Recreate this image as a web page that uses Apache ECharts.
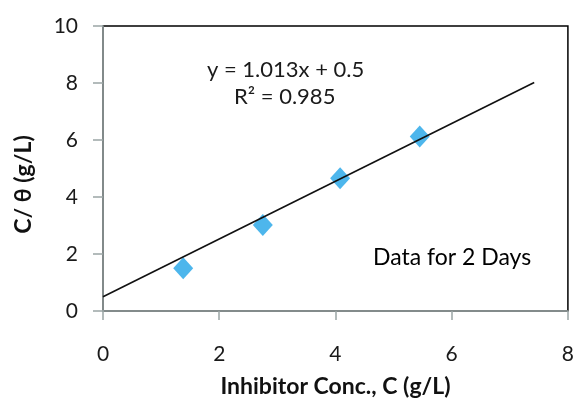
<!DOCTYPE html>
<html><head><meta charset="utf-8">
<script src="https://cdn.jsdelivr.net/npm/echarts@6/dist/echarts.min.js"></script>
<style>html,body{margin:0;padding:0;background:#fff}#c{width:577px;height:403px}</style>
</head><body><div id="c"></div>
<script>
var concX = [1.38, 2.75, 4.08, 5.45];
var cThetaY = [1.50, 3.02, 4.66, 6.12];
var trendX = [0, 7.42];
var trendY = [0.5, 8.02];
var xTicks = [0, 2, 4, 6, 8];
var yTicks = [0, 2, 4, 6, 8, 10];
var eqText = 'y = 1.013x + 0.5';
var r2Text = 'R² = 0.985';
var noteText = 'Data for 2 Days';

var font = 'Lato, "Open Sans", sans-serif';
var chart = echarts.init(document.getElementById('c'), null, {renderer: 'canvas'});
chart.setOption({
  animation: false,
  backgroundColor: '#fff',
  grid: {left: 103, right: 8, top: 26, bottom: 92, show: true, borderColor: '#000', borderWidth: 1.5},
  xAxis: {
    type: 'value', min: 0, max: 8, interval: 2,
    name: 'Inhibitor Conc., C (g/L)', nameLocation: 'middle', nameGap: 64,
    nameTextStyle: {fontFamily: font, fontSize: 23, color: '#111', fontWeight: 'bold'},
    axisLine: {show: true, lineStyle: {color: '#9aa5a5', width: 1.5}},
    axisTick: {show: true, length: 9, lineStyle: {color: '#9aa5a5', width: 1.5}},
    axisLabel: {margin: 33, fontFamily: font, fontSize: 21, color: '#1a1a1a',
      formatter: function(v){ return xTicks.indexOf(v) >= 0 ? String(v) : ''; }},
    splitLine: {show: false}
  },
  yAxis: {
    type: 'value', min: 0, max: 10, interval: 2,
    name: 'C/ θ (g/L)', nameLocation: 'middle', nameGap: 68, nameRotate: 90,
    nameTextStyle: {fontFamily: font, fontSize: 23, color: '#111', fontWeight: 'bold', padding: [0, 32, 0, 0]},
    axisLine: {show: true, lineStyle: {color: '#9aa5a5', width: 1.5}},
    axisTick: {show: true, length: 10, lineStyle: {color: '#9aa5a5', width: 1.5}},
    axisLabel: {margin: 25, fontFamily: font, fontSize: 21, color: '#1a1a1a',
      formatter: function(v){ return yTicks.indexOf(v) >= 0 ? String(v) : ''; }},
    splitLine: {show: false}
  },
  series: [
    {type: 'line', data: trendX.map(function(x,i){return [x, trendY[i]];}),
     showSymbol: false, symbol: 'none', lineStyle: {color: '#111', width: 1.6}, z: 3},
    {type: 'scatter', data: concX.map(function(x,i){return [x, cThetaY[i]];}),
     symbol: 'diamond', symbolSize: [20, 22], itemStyle: {color: '#4db6ec', opacity: 1}, z: 2}
  ],
  graphic: [
    {type: 'text', x: 207, y: 70, style: {text: eqText, font: '22px ' + font, fill: '#1a1a1a', verticalAlign: 'middle'}},
    {type: 'text', x: 234, y: 97, style: {text: r2Text, font: '22px ' + font, fill: '#1a1a1a', verticalAlign: 'middle'}},
    {type: 'text', x: 373, y: 258, style: {text: noteText, font: '23px ' + font, fill: '#000', verticalAlign: 'middle'}}
  ]
});
</script></body></html>
